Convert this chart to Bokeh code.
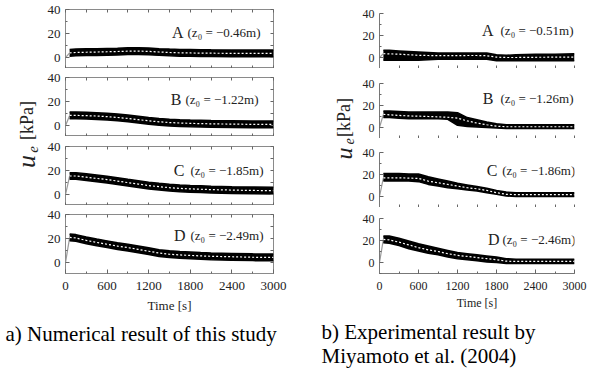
import math
from bokeh.plotting import figure
from bokeh.models import Range1d, LinearAxis, FixedTicker, SingleIntervalTicker
from bokeh.layouts import row, column
from bokeh.embed import file_html
from bokeh.resources import INLINE
from bokeh.core.properties import value

FONT = "Liberation Serif"

# ---------------- data ----------------
time_s = [60, 150, 300, 450, 600, 750, 900, 1050, 1200, 1350, 1500, 1650, 1800, 1950, 2100, 2400, 2700, 3000]

# a) numerical result
a_A_mean  = [4.0, 4.3, 4.5, 4.7, 4.9, 5.1, 5.4, 5.5, 5.2, 4.7, 4.3, 4.0, 3.9, 3.8, 3.7, 3.6, 3.6, 3.5]
a_A_upper = [6.8, 7.1, 7.3, 7.5, 7.7, 7.9, 8.2, 8.3, 8.0, 7.5, 7.1, 6.8, 6.7, 6.6, 6.5, 6.4, 6.4, 6.3]
a_A_lower = [1.2, 1.5, 1.7, 1.9, 2.1, 2.3, 2.6, 2.7, 2.4, 1.9, 1.5, 1.2, 1.1, 1.0, 0.9, 0.8, 0.8, 0.7]

a_B_mean  = [8.5, 8.5, 8.3, 8.0, 7.5, 6.8, 6.0, 5.0, 4.0, 3.2, 2.6, 2.2, 1.9, 1.7, 1.5, 1.3, 1.1, 1.0]
a_B_upper = [11.3, 11.3, 11.1, 10.8, 10.3, 9.6, 8.8, 7.8, 6.8, 6.0, 5.4, 5.0, 4.7, 4.5, 4.3, 4.1, 3.9, 3.8]
a_B_lower = [5.7, 5.7, 5.5, 5.2, 4.7, 4.0, 3.2, 2.2, 1.2, 0.4, -0.2, -0.6, -0.9, -1.1, -1.3, -1.5, -1.7, -1.8]

a_C_mean  = [15.5, 15.5, 14.5, 13.5, 12.5, 11.3, 10.0, 8.8, 7.6, 6.6, 5.8, 5.2, 4.8, 4.5, 4.2, 3.8, 3.5, 3.3]
a_C_upper = [18.3, 18.3, 17.3, 16.3, 15.3, 14.1, 12.8, 11.6, 10.4, 9.4, 8.6, 8.0, 7.6, 7.3, 7.0, 6.6, 6.3, 6.1]
a_C_lower = [12.7, 12.7, 11.7, 10.7, 9.7, 8.5, 7.2, 6.0, 4.8, 3.8, 3.0, 2.4, 2.0, 1.7, 1.4, 1.0, 0.7, 0.5]

a_D_mean  = [21.0, 20.5, 18.5, 16.8, 15.3, 13.8, 12.5, 11.0, 9.5, 8.0, 7.0, 6.4, 6.0, 5.6, 5.3, 4.9, 4.5, 4.3]
a_D_upper = [23.8, 23.3, 21.3, 19.6, 18.1, 16.6, 15.3, 13.8, 12.3, 10.8, 9.8, 9.2, 8.8, 8.4, 8.1, 7.7, 7.3, 7.1]
a_D_lower = [18.2, 17.7, 15.7, 14.0, 12.5, 11.0, 9.7, 8.2, 6.7, 5.2, 4.2, 3.6, 3.2, 2.8, 2.5, 2.1, 1.7, 1.5]

# b) experimental result
b_A_mean  = [3.5, 3.3, 3.0, 2.5, 2.0, 1.8, 1.7, 1.7, 1.7, 1.8, 1.8, 1.6, 0.3, 0.0, 0.0, 0.2, 0.3, 0.3]
b_A_upper = [6.5, 6.5, 6.0, 5.5, 5.0, 4.5, 4.0, 4.0, 4.0, 4.2, 4.2, 4.0, 2.5, 2.0, 2.5, 3.0, 3.0, 3.5]
b_A_lower = [-2.5, -2.5, -2.5, -2.5, -2.5, -2.0, -1.5, -1.5, -1.5, -1.5, -1.5, -1.5, -3.0, -3.0, -3.0, -3.0, -3.0, -3.0]

b_B_mean  = [12.0, 11.5, 11.0, 10.5, 10.3, 10.0, 9.7, 9.3, 8.5, 6.0, 4.0, 2.5, 1.2, 0.7, 0.7, 0.7, 0.7, 0.7]
b_B_upper = [15.0, 15.0, 14.5, 14.0, 14.0, 14.0, 14.0, 14.0, 13.5, 9.0, 7.0, 5.0, 3.5, 2.5, 2.5, 2.5, 2.5, 2.5]
b_B_lower = [9.0, 9.0, 8.5, 8.0, 8.0, 8.0, 8.0, 7.5, 2.0, 1.0, 0.5, 0.0, -0.5, -1.0, -1.0, -1.0, -1.0, -1.0]

b_C_mean  = [17.0, 17.0, 17.0, 16.7, 16.5, 14.0, 12.5, 11.0, 9.5, 8.0, 7.0, 5.5, 3.5, 2.0, 1.7, 1.7, 1.7, 1.7]
b_C_upper = [21.0, 21.0, 21.0, 20.5, 20.5, 18.0, 16.0, 14.0, 12.0, 10.5, 9.0, 7.5, 5.5, 4.0, 3.5, 3.5, 3.5, 3.5]
b_C_lower = [14.0, 14.0, 14.0, 14.0, 13.5, 11.0, 9.5, 8.0, 7.0, 6.0, 5.0, 3.5, 2.0, 0.5, 0.0, 0.0, 0.0, 0.0]

b_D_mean  = [21.0, 20.5, 18.5, 16.0, 13.5, 11.5, 10.0, 8.0, 6.5, 5.5, 4.5, 3.5, 2.5, 1.2, 1.0, 1.0, 1.0, 1.0]
b_D_upper = [24.0, 24.0, 22.0, 19.5, 17.0, 15.0, 13.0, 11.0, 9.0, 8.0, 7.0, 6.0, 5.0, 3.5, 3.0, 3.0, 3.0, 3.0]
b_D_lower = [18.0, 17.5, 15.5, 12.5, 10.5, 8.5, 7.0, 5.0, 3.5, 2.5, 1.5, 0.5, 0.0, -1.0, -1.0, -1.0, -1.0, -1.0]

letters = ["A", "B", "C", "D"]
a_z0 = ["(z\u2080 = \u22120.46m)", "(z\u2080 = \u22121.22m)", "(z\u2080 = \u22121.85m)", "(z\u2080 = \u22122.49m)"]
b_z0 = ["(z\u2080 = \u22120.51m)", "(z\u2080 = \u22121.26m)", "(z\u2080 = \u22121.86m)", "(z\u2080 = \u22122.46m)"]
y_ticks = [0, 20, 40]
y_minor = [-10, 10, 30]
x_tick_step = 600
x_marks = [0, 300, 600, 900, 1200, 1500, 1800, 2100, 2400, 2700, 3000]
y_marks = [0, 10, 20, 30, 40]

# ---------------- helpers ----------------
def label_axis(font_size, line_color, ticker):
    return LinearAxis(
        ticker=ticker,
        major_tick_in=4, major_tick_out=0, minor_tick_in=2, minor_tick_out=0,
        major_tick_line_color="#666666", minor_tick_line_color="#666666",
        axis_line_color=line_color,
        major_label_text_font=FONT, major_label_text_font_size=font_size,
        major_label_standoff=5, major_label_text_color="#222222",
    )


def mark_axis(line_color, marks):
    # tick marks only, no labels
    return LinearAxis(
        ticker=FixedTicker(ticks=[], minor_ticks=marks),
        major_tick_in=0, major_tick_out=0, minor_tick_in=3, minor_tick_out=0,
        minor_tick_line_color="#666666", axis_line_color=line_color,
        major_label_standoff=0,
    )


def subplot(panel, idx, mean, upper, lower, top, frame_h, bottom, show_x,
            letter_x, paren_x, label_y):
    if panel == "a":
        w, mbl, mbr, ymin, fs = 260, 25, 27, -9, "13px"
    else:
        w, mbl, mbr, ymin, fs = 240, 20, 25, -10, "12px"
    p = figure(width=w, height=top + frame_h + bottom, title=None,
               x_range=Range1d(0, 3000), y_range=Range1d(ymin, 40),
               x_axis_location=None, y_axis_location=None,
               output_backend="svg", toolbar_location=None,
               min_border_left=mbl, min_border_right=mbr,
               min_border_top=top, min_border_bottom=bottom,
               background_fill_color="white", border_fill_color="white")
    p.grid.visible = False
    xt = SingleIntervalTicker(interval=x_tick_step, num_minor_ticks=2)
    yt = FixedTicker(ticks=y_ticks, minor_ticks=y_minor)
    line_col = None if panel == "a" else "#777777"
    p.add_layout(label_axis(fs, line_col, yt), "left")
    if show_x:
        bx = label_axis(fs, line_col, xt)
        bx.axis_label = "Time [s]"
        bx.axis_label_text_font = FONT
        bx.axis_label_text_font_style = "normal"
        bx.axis_label_text_font_size = fs
        bx.axis_label_standoff = 5 if panel == "a" else 3
        bx.axis_label_text_color = "#222222"
        bx.major_label_standoff = 8
    else:
        bx = mark_axis(line_col, x_marks)
    p.add_layout(bx, "below")
    if panel == "a":
        p.outline_line_color = "#8a8a8a"
        p.outline_line_width = 1
        p.add_layout(mark_axis(None, x_marks), "above")
        p.add_layout(mark_axis(None, y_marks), "right")
    else:
        p.outline_line_color = None

    # initial rise
    p.line([0, time_s[0]], [0, mean[0]], line_color="#9a9a9a", line_width=1.2)
    # oscillation envelope
    p.varea(x=time_s, y1=lower, y2=upper, fill_color="black")
    p.line(time_s, upper, line_color="black", line_width=1.5)
    p.line(time_s, lower, line_color="black", line_width=1.5)
    # mean line
    p.line(time_s, mean, line_color="white", line_dash="2 2", line_width=1.2)

    p.text(x=[letter_x], y=[label_y], text=[letters[idx]], text_align="right",
           text_baseline="alphabetic", text_font=value(FONT),
           text_font_size="16px", text_color="#222222")
    z0 = a_z0 if panel == "a" else b_z0
    p.text(x=[paren_x], y=[label_y], text=[z0[idx]], text_align="left",
           text_baseline="alphabetic", text_font=value(FONT),
           text_font_size="13px", text_color="#222222")
    return p


def ylabel_fig(width, height, u_pos, e_pos, kpa_pos, u_size, e_size, kpa_size):
    p = figure(width=width, height=height, title=None,
               x_range=Range1d(0, width), y_range=Range1d(0, height),
               x_axis_location=None, y_axis_location=None,
               output_backend="svg", toolbar_location=None, min_border=0,
               outline_line_color=None)
    p.grid.visible = False
    a = math.pi / 2
    parts = [("u", u_pos, u_size, "italic"), ("e", e_pos, e_size, "italic"),
             ("[kPa]", kpa_pos, kpa_size, "normal")]
    for txt, (cx, cy), size, style in parts:
        p.text(x=[cx], y=[height - cy], text=[txt], angle=a, text_align="center",
               text_baseline="middle", text_font=value(FONT), text_font_style=style,
               text_font_size=size, text_color="#222222")
    return p


def caption_fig(width, height, x0, lines, baselines):
    p = figure(width=width, height=height, title=None,
               x_range=Range1d(0, width), y_range=Range1d(0, height),
               x_axis_location=None, y_axis_location=None,
               output_backend="svg", toolbar_location=None, min_border=0,
               outline_line_color=None)
    p.grid.visible = False
    p.text(x=[x0] * len(lines), y=[height - b for b in baselines], text=lines,
           text_align="left", text_baseline="alphabetic", text_font=value(FONT),
           text_font_size="21px", text_color="black")
    return p

# ---------------- panel a ----------------
a_data = [(a_A_mean, a_A_upper, a_A_lower), (a_B_mean, a_B_upper, a_B_lower),
          (a_C_mean, a_C_upper, a_C_lower), (a_D_mean, a_D_upper, a_D_lower)]
a_tops = [9, 9, 10, 9]
a_bottoms = [0, 0, 0, 44]
a_letter_x = [1702, 1673, 1716, 1730]
a_paren_x = [1760, 1731, 1803, 1803]
a_label_y = [20.6, 21.5, 20.0, 22.6]
a_figs = []
for i in range(4):
    m, u, l = a_data[i]
    a_figs.append(subplot("a", i, m, u, l, a_tops[i], 59, a_bottoms[i], i == 3,
                          a_letter_x[i], a_paren_x[i], a_label_y[i]))
stack_h = sum(a_tops) + 4 * 59 + sum(a_bottoms)
a_ylab = ylabel_fig(40, stack_h, (26, 161), (32, 149), (26, 120), "26px", "15px", "18px")
a_cap = caption_fig(300, 370 - stack_h, 5, ["a) Numerical result of this study"], [16])
left_block = column(row(a_ylab, column(*a_figs)), a_cap)

# ---------------- panel b ----------------
b_data = [(b_A_mean, b_A_upper, b_A_lower), (b_B_mean, b_B_upper, b_B_lower),
          (b_C_mean, b_C_upper, b_C_lower), (b_D_mean, b_D_upper, b_D_lower)]
b_tops = [13, 15, 14, 11]
b_bottoms = [0, 0, 0, 44]
b_letter_x = [1754, 1754, 1815, 1846]
b_paren_x = [1862, 1862, 1888, 1892]
b_label_y = [24.5, 26.0, 23.6, 21.0]
b_figs = []
for i in range(4):
    m, u, l = b_data[i]
    b_figs.append(subplot("b", i, m, u, l, b_tops[i], 55, b_bottoms[i], i == 3,
                          b_letter_x[i], b_paren_x[i], b_label_y[i]))
stack_hb = sum(b_tops) + 4 * 55 + sum(b_bottoms)
b_ylab = ylabel_fig(59, stack_hb, (43, 153), (48, 141), (43, 117), "24px", "14px", "18px")
b_cap = caption_fig(299, 370 - stack_hb, 21,
                    ["b) Experimental result by", "Miyamoto et al. (2004)"], [14, 38])
right_block = column(row(b_ylab, column(*b_figs)), b_cap)

layout = row(left_block, right_block)

with open("out.html", "w") as f:
    f.write(file_html(layout, INLINE))
